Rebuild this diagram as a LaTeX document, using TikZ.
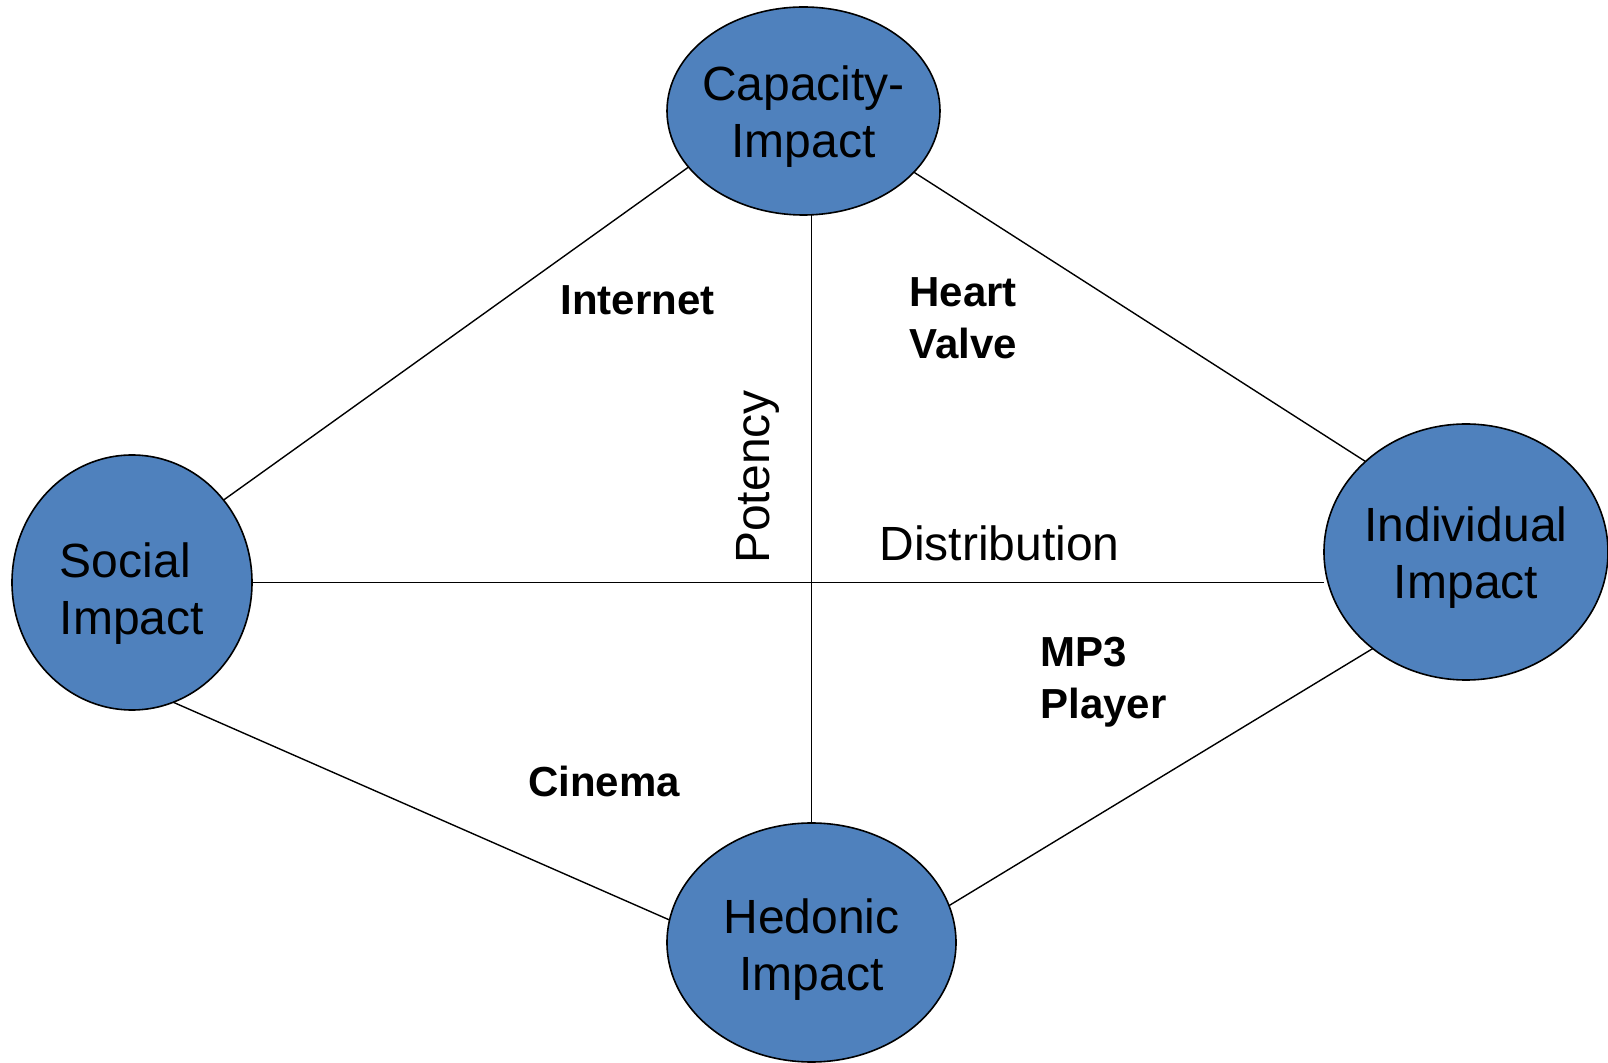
\documentclass[tikz,border=0pt]{standalone}
\usepackage{fontspec}
\setmainfont{Liberation Sans}
\usepackage{tikz}
\usetikzlibrary{shapes}

\definecolor{impactblue}{HTML}{4F81BD}

\tikzset{
  impact/.style={ellipse, draw, line width=0.8pt, fill=impactblue, inner xsep=-8pt, inner ysep=0pt, outer sep=0pt, text height=51pt, align=center, font=\fontsize{24}{28.5}\selectfont},
  product/.style={font=\fontsize{21}{26}\selectfont\bfseries, align=left, inner sep=0pt},
  axis/.style={font=\fontsize{24}{28.5}\selectfont, inner sep=0pt},
  link/.style={line width=0.7pt}
}

\begin{document}
\begin{tikzpicture}[x=0.5pt, y=-0.5pt]
\useasboundingbox (0,0) rectangle (1608,1063);

% the four kinds of impact
\node [impact, minimum width=136.5pt, minimum height=104pt] at(803.5,111) (cap) {Capacity-\\Impact};
\node [impact, minimum width=120pt, minimum height=127.5pt, align=left, text height=57pt] at(132,582.5) (soc) {Social\\Impact};
\node [impact, minimum width=142pt, minimum height=128pt] at(1466,552) (ind) {Individual\\Impact};
\node [impact, minimum width=144.5pt, minimum height=119.5pt, text height=53pt] at(811.5,942.5) (hed) {Hedonic\\Impact};

% outer diamond
\path[draw, link] (cap.206) -- (soc.42);
\path[draw, link] (cap.331) -- (ind.138);
\path[draw, link] (soc.289) -- (hed.171);
\path[draw, link] (hed.15) -- (ind.226);

% axes
\path[draw, link] (hed.north) -- (hed.north |- cap.south);
\path[draw, link] (soc.east) -- (soc.east -| ind.west);

\node [axis, rotate=90] at(758,477) (potency) {Potency};
\node [axis] at(999.5,543.5) (distribution) {Distribution};

% examples in each quarter
\node [product] at(637.5,300.5) (internet) {Internet};
\node [product, anchor=west] at(909,318) (heart) {Heart\\Valve};
\node [product] at(604,781) (cinema) {Cinema};
\node [product, anchor=west] at(1040,682) (mp3) {MP3\\Player};
\end{tikzpicture}
\end{document}
